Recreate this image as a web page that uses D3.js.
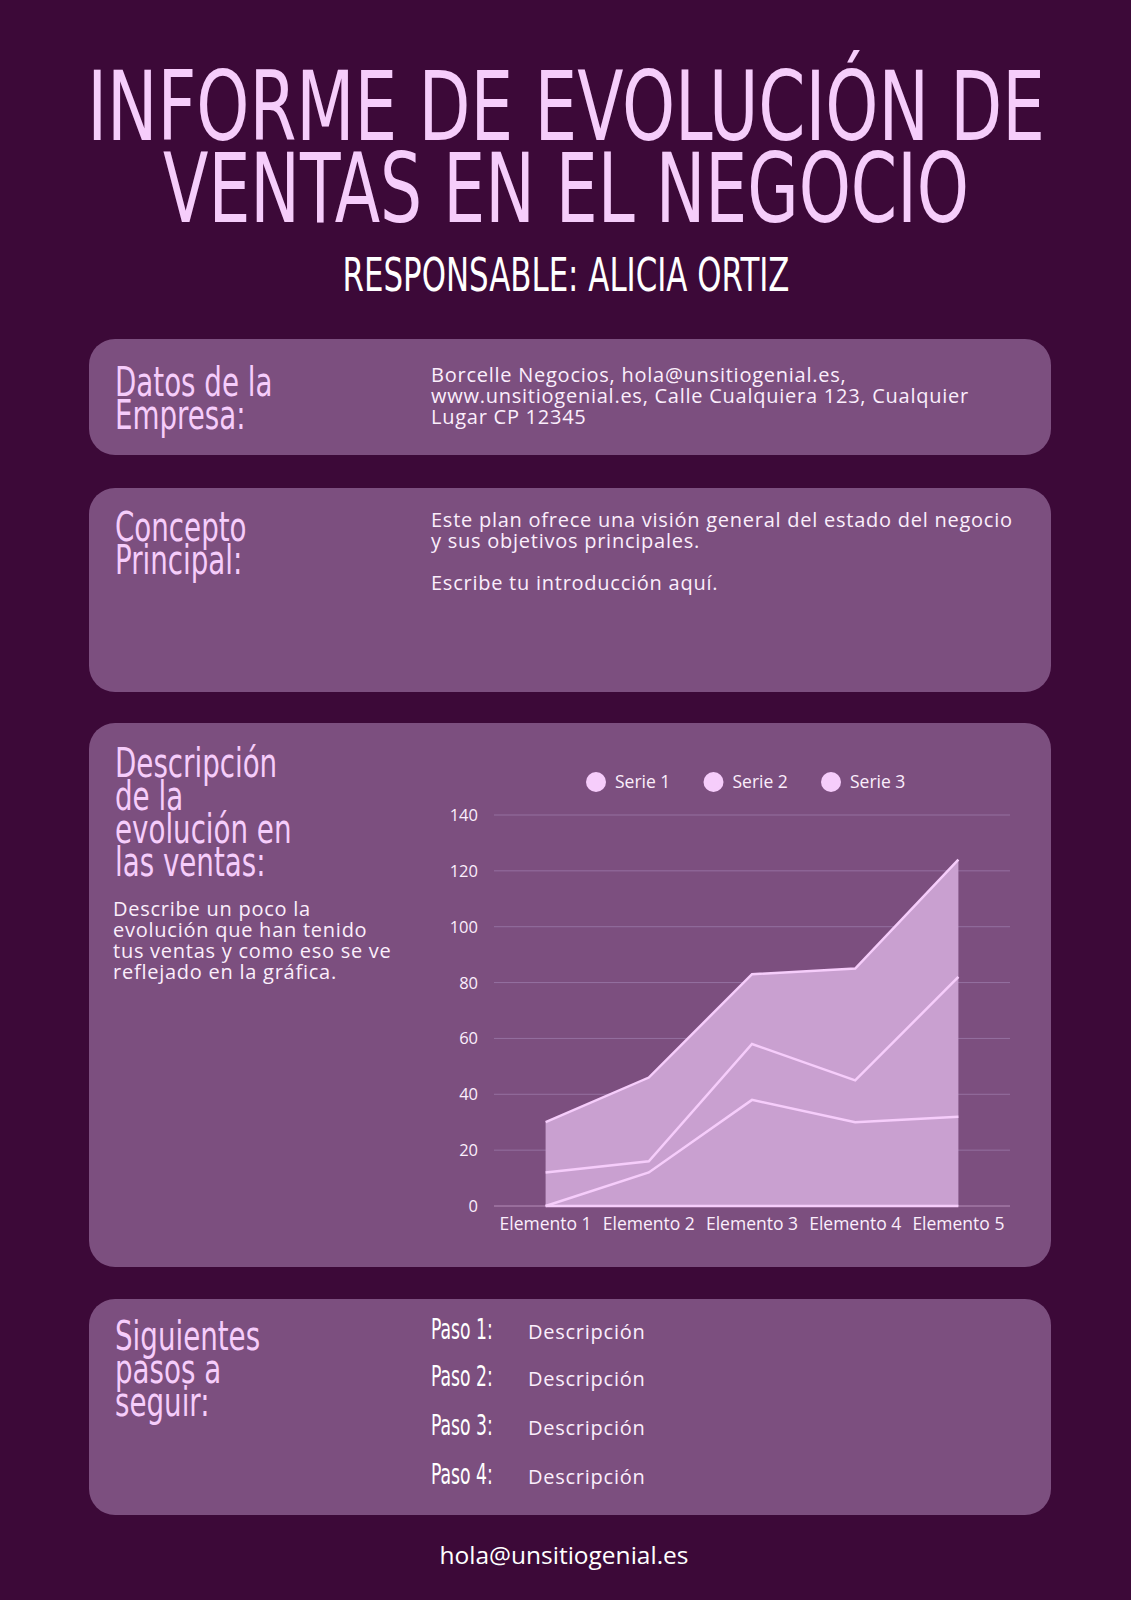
<!DOCTYPE html>
<html>
<head>
    <meta charset="utf-8">
    <script src="https://cdn.jsdelivr.net/npm/d3@7"></script>
    <style>
        * { margin: 0; padding: 0; }
        body { background: #3c0938; }
        svg { display: block; }
        .cond { font-family: 'Liberation Sans Narrow', 'DejaVu Sans Condensed', sans-serif; }
        .body { font-family: 'Open Sans', Lato, sans-serif; }
    </style>
</head>
<body>
<svg id="page" width="1131" height="1600"></svg>
<script>
    // chart data
    var categories = ["Elemento 1", "Elemento 2", "Elemento 3", "Elemento 4", "Elemento 5"];
    var seriesNames = ["Serie 1", "Serie 2", "Serie 3"];
    var serie1 = [0, 12, 38, 30, 32];
    var serie2 = [12, 4, 20, 15, 50];
    var serie3 = [18, 30, 25, 40, 42];
    var yTicks = [0, 20, 40, 60, 80, 100, 120, 140];

    var pink = "#f6cdfb";
    var card = "#7c4f7f";
    var light = "#fbeefc";

    var svg = d3.select("#page");
    svg.append("rect").attr("width", 1131).attr("height", 1600).attr("fill", "#3c0938");

    // condensed text, squeezed sideways
    function cond(x, y, size, sx, color, t) {
        return svg.append("text").attr("class", "cond")
            .attr("transform", "translate(" + x + "," + y + ") scale(" + sx + ",1)")
            .attr("font-size", size).attr("fill", color)
            .text(t);
    }

    // centred title line squeezed to a given width
    function titleLine(y, size, width, color, t) {
        var el = svg.append("text").attr("class", "cond")
            .attr("text-anchor", "middle")
            .attr("font-size", size).attr("fill", color)
            .text(t);
        var sx = width / el.node().getComputedTextLength();
        el.attr("transform", "translate(566," + y + ") scale(" + sx + ",1)");
    }

    titleLine(140, 96, 958, pink, "INFORME DE EVOLUCIÓN DE");
    titleLine(222, 96, 806, pink, "VENTAS EN EL NEGOCIO");
    titleLine(291, 46, 447, "#ffffff", "RESPONSABLE: ALICIA ORTIZ");

    // cards
    var cards = [
        { y: 339, h: 116, head: ["Datos de la", "Empresa:"], hy: 396 },
        { y: 488, h: 204, head: ["Concepto", "Principal:"], hy: 541 },
        { y: 723, h: 544, head: ["Descripción", "de la", "evolución en", "las ventas:"], hy: 777 },
        { y: 1299, h: 216, head: ["Siguientes", "pasos a", "seguir:"], hy: 1350 }
    ];
    cards.forEach(function (c) {
        svg.append("rect").attr("x", 89).attr("y", c.y).attr("width", 962).attr("height", c.h)
            .attr("rx", 26).attr("fill", card);
        c.head.forEach(function (t, i) {
            cond(115, c.hy + i * 33, 40, 0.77, pink, t);
        });
    });

    function bodyLines(lines, x, y, step, size) {
        lines.forEach(function (t, i) {
            svg.append("text").attr("class", "body")
                .attr("x", x).attr("y", y + i * step)
                .attr("font-size", size).attr("letter-spacing", 0.75).attr("fill", light)
                .text(t);
        });
    }

    bodyLines(["Borcelle Negocios, hola@unsitiogenial.es,",
        "www.unsitiogenial.es, Calle Cualquiera 123, Cualquier",
        "Lugar CP 12345"], 431, 382, 21, 20);
    bodyLines(["Este plan ofrece una visión general del estado del negocio",
        "y sus objetivos principales."], 431, 527, 21, 20);
    bodyLines(["Escribe tu introducción aquí."], 431, 590, 21, 20);
    bodyLines(["Describe un poco la", "evolución que han tenido",
        "tus ventas y como eso se ve", "reflejado en la gráfica."], 113, 916, 21, 20);

    // steps
    var stepY = [1339, 1386, 1435, 1484];
    stepY.forEach(function (y, i) {
        cond(431, y, 29, 0.66, "#ffffff", "Paso " + (i + 1) + ":");
        svg.append("text").attr("class", "body")
            .attr("x", 528).attr("y", y).attr("font-size", 20).attr("letter-spacing", 0.75)
            .attr("fill", light)
            .text("Descripción");
    });

    svg.append("text").attr("class", "body")
        .attr("x", 564).attr("y", 1564).attr("text-anchor", "middle")
        .attr("font-size", 24.5).attr("fill", "#ffffff")
        .text("hola@unsitiogenial.es");

    // area chart
    var x = d3.scaleBand().domain(categories).range([494, 1010]);
    var y = d3.scaleLinear().domain([0, 140]).range([1206, 815]);

    var table = categories.map(function (c, i) {
        return { cat: c, "Serie 1": serie1[i], "Serie 2": serie2[i], "Serie 3": serie3[i] };
    });
    var stacked = d3.stack().keys(seriesNames)(table);

    var chart = svg.append("g");

    chart.selectAll(".grid")
        .data(yTicks)
        .enter()
        .append("line")
        .attr("x1", 494).attr("x2", 1010)
        .attr("y1", function (d) { return y(d); })
        .attr("y2", function (d) { return y(d); })
        .attr("stroke", function (d) { return d == 0 ? "#b58db9" : "#9470a0"; })
        .attr("stroke-width", 1);

    chart.selectAll(".ylab")
        .data(yTicks)
        .enter()
        .append("text").attr("class", "body")
        .attr("x", 478).attr("y", function (d) { return y(d) + 6; })
        .attr("text-anchor", "end").attr("font-size", 16.5).attr("fill", light)
        .text(function (d) { return d; });

    chart.selectAll(".xlab")
        .data(categories)
        .enter()
        .append("text").attr("class", "body")
        .attr("x", function (d) { return x(d) + x.bandwidth() / 2; })
        .attr("y", 1230).attr("text-anchor", "middle").attr("font-size", 17.5).attr("fill", light)
        .text(function (d) { return d; });

    var cx = function (d) { return x(d.data.cat) + x.bandwidth() / 2; };
    var area = d3.area().x(cx).y0(function (d) { return y(d[0]); }).y1(function (d) { return y(d[1]); });
    var edge = function (k) { return d3.line().x(cx).y(function (d) { return y(d[k]); }); };

    chart.selectAll(".area")
        .data(stacked)
        .enter()
        .append("path")
        .attr("d", area)
        .attr("fill", "#c9a0d0");

    // lower edge of every layer, then the top of the last one
    chart.selectAll(".line")
        .data(stacked)
        .enter()
        .append("path")
        .attr("d", function (s) { return edge(0)(s); })
        .attr("fill", "none").attr("stroke", pink).attr("stroke-width", 2.5);
    chart.append("path")
        .attr("d", edge(1)(stacked[2]))
        .attr("fill", "none").attr("stroke", pink).attr("stroke-width", 2.5);

    // legend
    var legend = chart.selectAll(".leg")
        .data(seriesNames)
        .enter()
        .append("g")
        .attr("transform", function (d, i) { return "translate(" + (596 + i * 117.5) + ",782)"; });
    legend.append("circle").attr("r", 10).attr("fill", pink);
    legend.append("text").attr("class", "body")
        .attr("x", 19).attr("y", 6).attr("font-size", 17.5).attr("fill", light)
        .text(function (d) { return d; });
</script>
</body>
</html>
